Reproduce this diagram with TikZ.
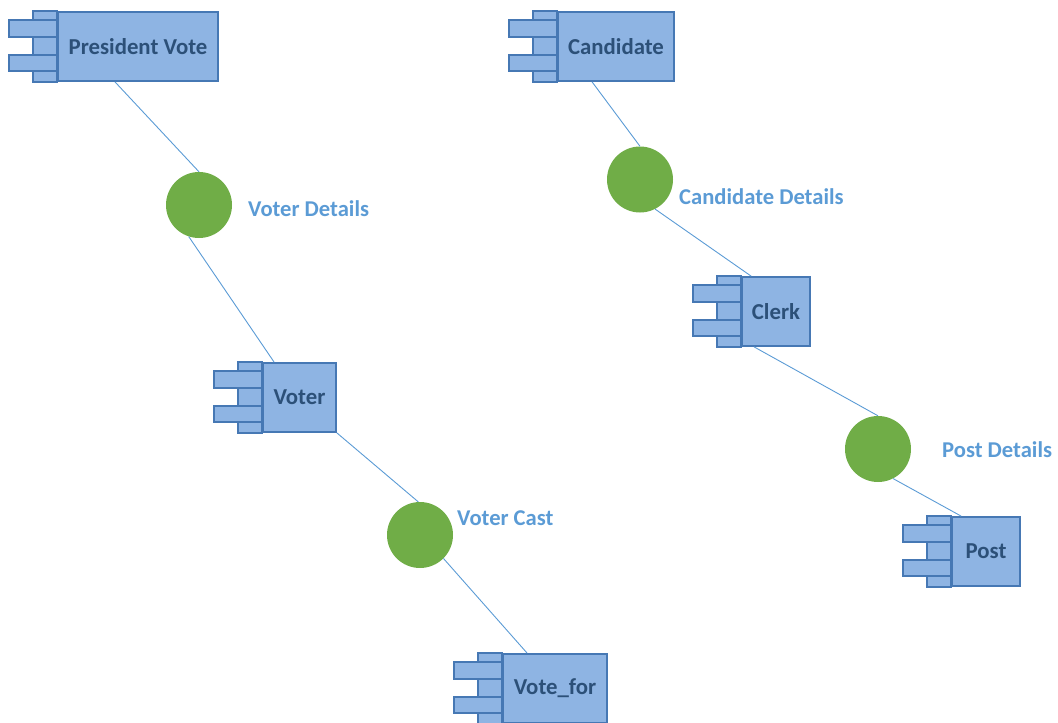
\documentclass[tikz,border=0pt]{standalone}
\usepackage{fontspec}
\setmainfont{Carlito}
\definecolor{compfill}{RGB}{142,180,227}
\definecolor{compedge}{RGB}{70,120,180}
\definecolor{comptext}{RGB}{44,80,120}
\definecolor{ifacefill}{RGB}{112,173,71}
\definecolor{linkcol}{RGB}{91,155,213}
\definecolor{labelcol}{RGB}{91,155,213}
\tikzset{
  compbox/.style={draw=compedge, fill=compfill, line width=1.8pt, minimum height=69pt,
    inner sep=0pt, font=\fontsize{22.8}{27}\selectfont\bfseries, text=comptext},
  comppart/.style={draw=compedge, fill=compfill, line width=1.8pt},
  iface/.style={circle, fill=ifacefill, minimum size=66pt, inner sep=0pt},
  ifacelabel/.style={anchor=base west, inner sep=0pt, text=labelcol,
    font=\fontsize{22.6}{27}\selectfont\bfseries},
  link/.style={draw=linkcol, line width=0.9pt}
}
% component: main box plus the side strip and two tabs
\newcommand\umlcomp[5]{%
  \node[compbox, minimum width=#4] (#1) at (#2,#3) {#5};
  \draw[comppart] ([xshift=-24pt]#1.north west) rectangle (#1.south west);
  \draw[comppart] ([xshift=-48pt,yshift=-9pt]#1.north west) rectangle ([yshift=-26pt]#1.north west);
  \draw[comppart] ([xshift=-48pt,yshift=-44pt]#1.north west) rectangle ([yshift=-60pt]#1.north west);
}
\begin{document}
\begin{tikzpicture}[x=1pt,y=-1pt]
\useasboundingbox (0,0) rectangle (1058,723);

% components
\umlcomp{pv}{138}{46.5}{160pt}{President Vote}
\umlcomp{cand}{616}{46.5}{116pt}{Candidate}
\umlcomp{voter}{299.5}{397.5}{73pt}{Voter}
\umlcomp{clerk}{776}{311.5}{68pt}{Clerk}
\umlcomp{votefor}{555}{688.5}{104pt}{Vote\_for}
\umlcomp{post}{986}{551.5}{68pt}{Post}

% interfaces
\node[iface] (vd) at (199,205) {};
\node[iface] (cd) at (640,179.5) {};
\node[iface] (vc) at (420,535) {};
\node[iface] (pd) at (878,449) {};

% interface labels
\node[ifacelabel] (lvd) at (248,216) {Voter Details};
\node[ifacelabel] (lcd) at (679,204) {Candidate Details};
\node[ifacelabel] (lvc) at (457,525) {Voter Cast};
\node[ifacelabel] (lpd) at (942,457) {Post Details};

% connectors
\draw[link] ([xshift=-23pt]pv.south) -- (vd.90);
\draw[link] (vd.252) -- ([xshift=12pt]voter.north west);
\draw[link] (voter.south east) -- (vc.93);
\draw[link] (vc.-45) -- ([xshift=25pt]votefor.north west);
\draw[link] ([xshift=35pt]cand.south west) -- (cd.90);
\draw[link] (cd.297) -- ([xshift=10pt]clerk.north west);
\draw[link] ([xshift=13pt]clerk.south west) -- (pd.90);
\draw[link] (pd.297) -- ([xshift=10pt]post.north west);
\end{tikzpicture}
\end{document}
